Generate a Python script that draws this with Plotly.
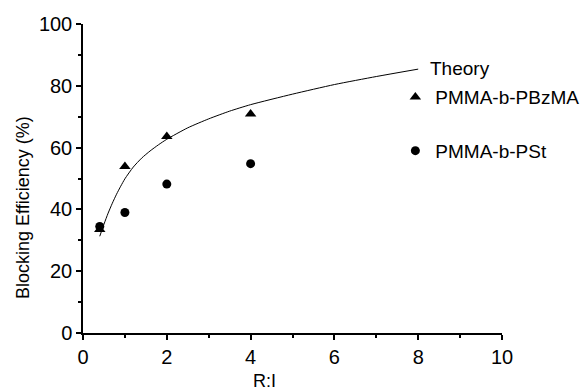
import plotly.graph_objects as go

# Data
theory_x = [0.4, 0.5, 0.6, 0.7, 0.8, 0.9, 1.0, 1.2, 1.4, 1.6, 1.8, 2.0, 2.5, 3.0, 3.5, 4.0, 5.0, 6.0, 7.0, 8.0]
theory_y = [31.3, 35.2, 38.8, 42.0, 44.9, 47.5, 49.9, 53.7, 56.6, 58.9, 60.9, 62.7, 66.4, 69.3, 71.8, 73.9,
            77.3, 80.4, 83.0, 85.4]

ratio = [0.4, 1, 2, 4]
pbzma = [33.5, 53.9, 63.6, 70.9]
pst = [34.5, 39.0, 48.2, 54.8]

x_ticks = [0, 2, 4, 6, 8, 10]
y_ticks = [0, 20, 40, 60, 80, 100]

FONT = "Liberation Sans, Arial, sans-serif"

fig = go.Figure()
fig.add_trace(go.Scatter(x=theory_x, y=theory_y, mode="lines",
                         line=dict(color="black", width=1, shape="spline", smoothing=0.6),
                         name="Theory", showlegend=False))
fig.add_trace(go.Scatter(x=ratio, y=pbzma, mode="markers", name="PMMA-b-PBzMA", legendgroup="a",
                         marker=dict(symbol="triangle-up", size=10, color="black")))
fig.add_trace(go.Scatter(x=ratio, y=pst, mode="markers", name="PMMA-b-PSt", legendgroup="b",
                         marker=dict(symbol="circle", size=9, color="black")))

axis_common = dict(showgrid=False, zeroline=False, showline=True, linecolor="black", linewidth=1.5,
                   ticks="outside", ticklen=5, tickwidth=1.5, tickcolor="black",
                   tickfont=dict(family=FONT, size=20, color="black"))
fig.update_xaxes(range=[0, 10], tickvals=x_ticks, ticktext=[str(v) for v in x_ticks],
                 minor=dict(dtick=1, ticks="outside", ticklen=3, tickwidth=1.5, tickcolor="black"),
                 **axis_common)
fig.update_yaxes(range=[0, 100], tickvals=y_ticks, ticktext=[str(v) for v in y_ticks],
                 minor=dict(dtick=10, ticks="outside", ticklen=3, tickwidth=1.5, tickcolor="black"),
                 **axis_common)

PW, PH = 580 - 83 - 78, 392 - 24 - 59


def px_to_paper(px, py):
    return (px - 83) / PW, (392 - 59 - py) / PH


fig.add_annotation(x=theory_x[-1], y=theory_y[-1], xref="x", yref="y", text="Theory", showarrow=False,
                   xanchor="left", yanchor="middle", xshift=10, yshift=1,
                   font=dict(family=FONT, size=19, color="black"))
xt = px_to_paper(264, 381)
fig.add_annotation(x=xt[0], y=xt[1], xref="paper", yref="paper", text="R:I", showarrow=False,
                   xanchor="center", yanchor="middle",
                   font=dict(family=FONT, size=18, color="black"))
yt = px_to_paper(23, 208)
fig.add_annotation(x=yt[0], y=yt[1], xref="paper", yref="paper", text="Blocking Efficiency (%)",
                   showarrow=False, xanchor="center", yanchor="middle",
                   textangle=-90, font=dict(family=FONT, size=18, color="black"))

fig.update_layout(
    width=580, height=392,
    margin=dict(l=83, r=78, t=24, b=59, autoexpand=False),
    plot_bgcolor="white", paper_bgcolor="white",
    legend=dict(x=0.7455, y=0.825, xanchor="left", yanchor="top", traceorder="grouped",
                tracegroupgap=26, bgcolor="rgba(0,0,0,0)",
                font=dict(family=FONT, size=19, color="black")),
)

fig.write_html("out.html")
